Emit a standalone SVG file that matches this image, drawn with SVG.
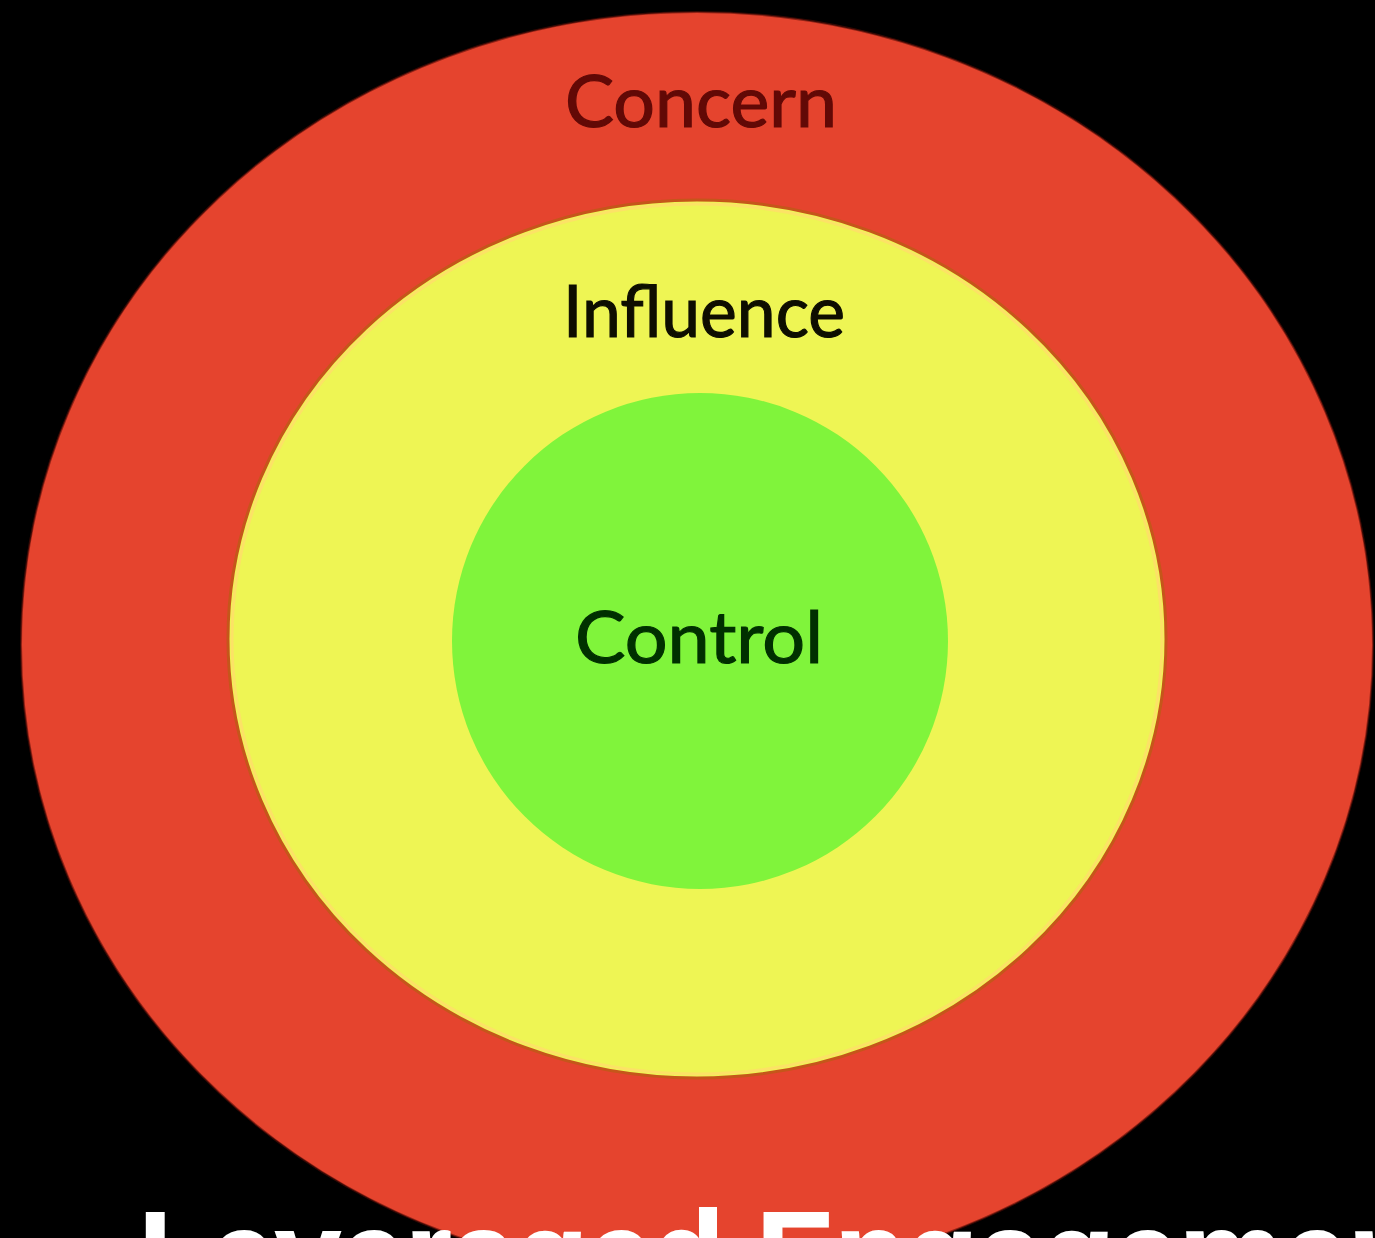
<svg xmlns="http://www.w3.org/2000/svg" width="1375" height="1238" viewBox="0 0 1375 1238">
  <style>
    .ring-label { font-family: Lato, "Liberation Sans", Arial, sans-serif; font-size: 72px; text-anchor: middle; stroke-width: 1.2px; }
    .title { font-family: "Liberation Sans", Arial, Helvetica, sans-serif; font-weight: bold; font-size: 120px; fill: #ffffff; stroke: #ffffff; stroke-width: 2px; }
  </style>
  <rect x="0" y="0" width="1375" height="1238" fill="#000000"/>

  <g id="concern">
    <ellipse cx="697" cy="645" rx="676" ry="633" fill="#E5442E" stroke="#5a0e06" stroke-width="2" stroke-opacity="0.6"/>
    <text class="ring-label" x="701" y="127" fill="#620906" stroke="#620906" textLength="272" lengthAdjust="spacingAndGlyphs">Concern</text>
  </g>

  <g id="influence">
    <ellipse cx="697" cy="639" rx="469" ry="439" fill="#EEF554" stroke="#C5561A" stroke-width="3"/>
    <ellipse cx="697" cy="639" rx="465" ry="435" fill="none" stroke="#FFDD6A" stroke-width="3" stroke-opacity="0.8"/>
    <text class="ring-label" x="704" y="337" fill="#0E0E00" stroke="#0E0E00" textLength="282" lengthAdjust="spacingAndGlyphs">Influence</text>
  </g>

  <g id="control">
    <circle cx="700" cy="641" r="248" fill="#80F43B"/>
    <text class="ring-label" x="699" y="663" fill="#003000" stroke="#003000" textLength="248" lengthAdjust="spacingAndGlyphs">Control</text>
  </g>

  <g id="connectors"/>

  <g id="title">
    <text class="title" x="139" y="1296" textLength="1320" lengthAdjust="spacingAndGlyphs">Leveraged Engagement</text>
  </g>
</svg>
